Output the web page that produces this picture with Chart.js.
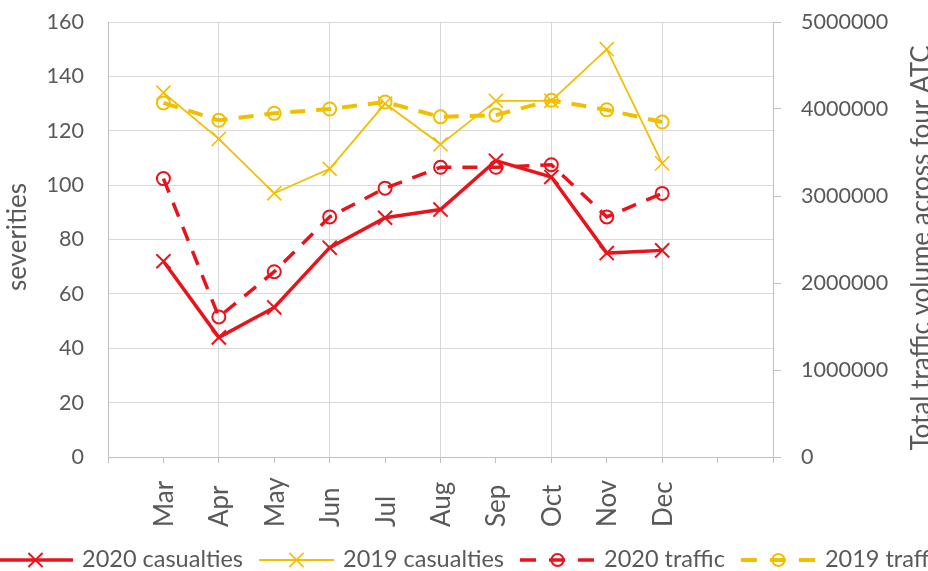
<!DOCTYPE html>
<html>
<head>
<meta charset="utf-8">
<script src="https://cdn.jsdelivr.net/npm/chart.js@4/dist/chart.umd.min.js"></script>
<style>
html,body{margin:0;padding:0;background:#fff;overflow:hidden}
#wrap{width:928px;height:571px;position:relative}
</style>
</head>
<body>
<div id="wrap"><canvas id="c" width="928" height="571"></canvas></div>
<script>
// ---- data ----
const months = ['Mar','Apr','May','Jun','Jul','Aug','Sep','Oct','Nov','Dec'];
const casualties2020 = [72, 44, 55, 77, 88, 91, 109, 103, 75, 76];
const casualties2019 = [134, 117, 97, 106, 130, 115, 131, 131, 150, 108];
const traffic2020 = [3200000, 1610000, 2130000, 2760000, 3090000, 3330000, 3330000, 3360000, 2760000, 3030000];
const traffic2019 = [4070000, 3870000, 3950000, 4000000, 4080000, 3910000, 3930000, 4100000, 3990000, 3850000];
const leftAxisTicks = [0, 20, 40, 60, 80, 100, 120, 140, 160];
const rightAxisTicks = [0, 1000000, 2000000, 3000000, 4000000, 5000000];
const seriesNames = ['2020 casualties', '2019 casualties', '2020 traffic', '2019 traffic'];
const leftTitle = 'severities';
const rightTitle = 'Total traffic volume across four ATC';

// ---- styles ----
const RED = '#E8141C', GOLD = '#F2BE00', GRID = '#D9D9D9', AXIS = '#BFBFBF', TXT = '#595959';
const FONT = 'Lato, "Open Sans", sans-serif';

// category axis has one blank slot before Mar and two after Dec
const labels = ['', ...months, '', ''];
const pad = arr => [null, ...arr, null, null];

const datasets = [
  { label: seriesNames[0], data: pad(casualties2020), yAxisID: 'y',
    borderColor: RED, borderWidth: 3.5, pointStyle: 'crossRot', pointRadius: 10,
    pointBorderColor: RED, pointBorderWidth: 2, pointBackgroundColor: RED, order: 4 },
  { label: seriesNames[1], data: pad(casualties2019), yAxisID: 'y',
    borderColor: GOLD, borderWidth: 1.8, pointStyle: 'crossRot', pointRadius: 10,
    pointBorderColor: GOLD, pointBorderWidth: 1.6, pointBackgroundColor: GOLD, order: 3 },
  { label: seriesNames[2], data: pad(traffic2020), yAxisID: 'y2',
    borderColor: RED, borderWidth: 3.5, borderDash: [15, 11], pointStyle: 'circle', pointRadius: 6.5,
    pointBorderColor: RED, pointBorderWidth: 2, pointBackgroundColor: 'rgba(0,0,0,0)', order: 2 },
  { label: seriesNames[3], data: pad(traffic2019), yAxisID: 'y2',
    borderColor: GOLD, borderWidth: 4, borderDash: [15, 11], pointStyle: 'circle', pointRadius: 6.5,
    pointBorderColor: GOLD, pointBorderWidth: 2, pointBackgroundColor: 'rgba(0,0,0,0)', order: 1 }
];
datasets.forEach(d => { d.fill = false; d.tension = 0; d.spanGaps = false; d.pointHoverRadius = d.pointRadius; });

function drawMarker(ctx, style, x, y, r, color, lw) {
  ctx.save();
  ctx.setLineDash([]);
  ctx.strokeStyle = color;
  ctx.lineWidth = lw;
  ctx.beginPath();
  if (style === 'crossRot') {
    const o = r * Math.SQRT1_2;
    ctx.moveTo(x - o, y - o); ctx.lineTo(x + o, y + o);
    ctx.moveTo(x - o, y + o); ctx.lineTo(x + o, y - o);
  } else {
    ctx.arc(x, y, r, 0, Math.PI * 2);
  }
  ctx.stroke();
  ctx.restore();
}

const decor = {
  id: 'decor',
  afterDraw(chart) {
    const ctx = chart.ctx;
    const xs = chart.scales.x;
    ctx.save();
    // month labels, rotated, start-aligned at a common bottom line
    ctx.fillStyle = TXT;
    ctx.font = '26px ' + FONT;
    ctx.textAlign = 'left';
    ctx.textBaseline = 'alphabetic';
    labels.forEach((lab, i) => {
      if (!lab) return;
      const px = xs.getPixelForTick(i);
      ctx.save();
      ctx.translate(px + 9.5, 527);
      ctx.rotate(-Math.PI / 2);
      ctx.fillText(lab, 0, 0);
      ctx.restore();
    });
    // axis titles
    ctx.font = '26px ' + FONT;
    ctx.textAlign = 'center';
    ctx.save();
    ctx.translate(26, 237);
    ctx.rotate(-Math.PI / 2);
    ctx.fillText(leftTitle, 0, 0);
    ctx.restore();
    ctx.save();
    ctx.translate(930, 248);
    ctx.rotate(-Math.PI / 2);
    ctx.fillText(rightTitle, 0, 0);
    ctx.restore();
    // legend
    ctx.font = '23.5px ' + FONT;
    ctx.textAlign = 'left';
    let x = -2;
    const ly = 560, symW = 75;
    datasets.forEach(d => {
      ctx.save();
      ctx.strokeStyle = d.borderColor;
      ctx.lineWidth = d.borderWidth;
      ctx.setLineDash(d.borderDash ? [16, 13] : []);
      ctx.beginPath();
      ctx.moveTo(x, ly); ctx.lineTo(x + symW, ly);
      ctx.stroke();
      ctx.restore();
      drawMarker(ctx, d.pointStyle, x + symW / 2, ly, d.pointStyle === 'circle' ? 6 : 10, d.pointBorderColor, d.pointBorderWidth);
      ctx.fillStyle = TXT;
      ctx.fillText(d.label, x + symW + 9, 567);
      x += symW + 9 + ctx.measureText(d.label).width + 16;
    });
    ctx.restore();
  }
};

new Chart(document.getElementById('c'), {
  type: 'line',
  data: { labels, datasets },
  options: {
    responsive: false,
    animation: false,
    layout: { padding: { top: 22, left: 0, right: 0, bottom: 0 } },
    plugins: { legend: { display: false }, tooltip: { enabled: false } },
    scales: {
      x: {
        type: 'category',
        offset: false,
        grid: {
          offset: false,
          color: c => (c.index === 0 || c.index === labels.length - 1) ? AXIS : (c.index % 2 === 0 ? GRID : 'rgba(0,0,0,0)'),
          tickColor: AXIS,
          tickLength: 6,
          drawTicks: true,
          lineWidth: 1
        },
        border: { display: true, color: AXIS },
        ticks: { display: false, autoSkip: false },
        afterFit: s => { s.height = 114; s.paddingLeft = 0; s.paddingRight = 0; }
      },
      y: {
        position: 'left',
        min: leftAxisTicks[0],
        max: leftAxisTicks[leftAxisTicks.length - 1],
        afterBuildTicks: s => { s.ticks = leftAxisTicks.map(v => ({ value: v })); },
        grid: { color: GRID, drawTicks: false, lineWidth: 1 },
        border: { display: true, color: AXIS },
        ticks: { color: TXT, font: { family: FONT, size: 21.5 }, padding: 24 },
        afterFit: s => { s.width = 108; s.paddingTop = 0; s.paddingBottom = 0; }
      },
      y2: {
        position: 'right',
        min: rightAxisTicks[0],
        max: rightAxisTicks[rightAxisTicks.length - 1],
        afterBuildTicks: s => { s.ticks = rightAxisTicks.map(v => ({ value: v })); },
        grid: { drawOnChartArea: false, drawTicks: true, tickLength: 8, tickColor: AXIS, color: AXIS },
        border: { display: true, color: AXIS },
        ticks: { color: TXT, font: { family: FONT, size: 21.5 }, padding: 20, callback: v => String(v) },
        afterFit: s => { s.width = 155; s.paddingTop = 0; s.paddingBottom = 0; }
      }
    }
  },
  plugins: [decor]
});
</script>
</body>
</html>
